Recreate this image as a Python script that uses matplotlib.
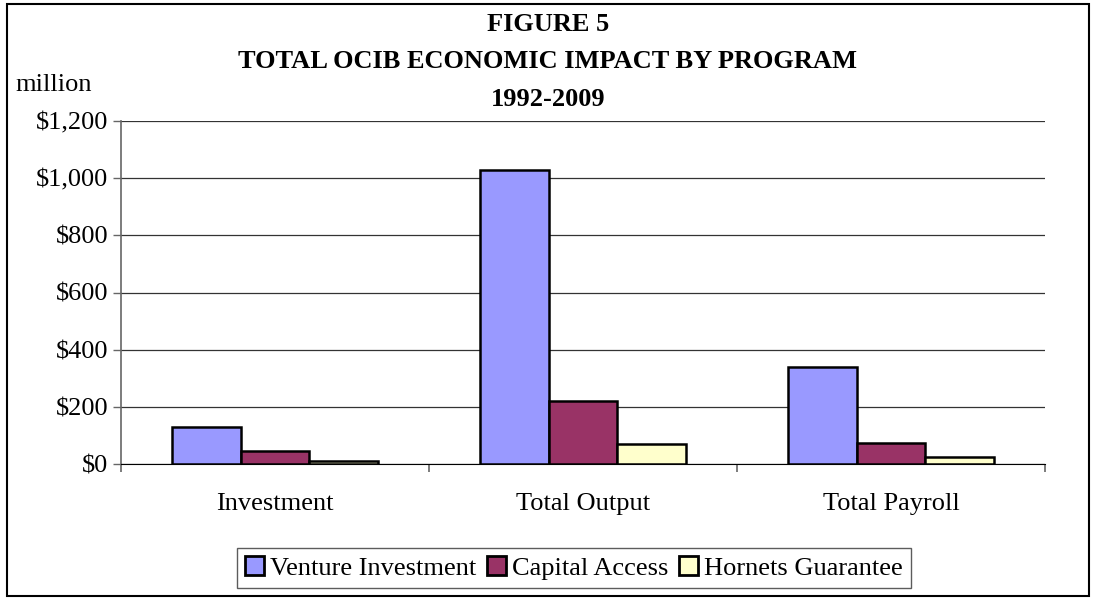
import matplotlib
matplotlib.use("Agg")
import matplotlib.pyplot as plt
import numpy as np
from matplotlib.patches import Rectangle

categories = ["Investment", "Total Output", "Total Payroll"]
series_names = ["Venture Investment", "Capital Access", "Hornets Guarantee"]
venture = [131, 1029, 340]
capital = [44, 219, 74]
hornets = [9, 70, 23]
yticks = [0, 200, 400, 600, 800, 1000, 1200]
ytick_labels = ["$0", "$200", "$400", "$600", "$800", "$1,000", "$1,200"]
colors = ["#9999FF", "#993366", "#FFFFCC"]

plt.rcParams['font.family'] = ['Liberation Serif', 'DejaVu Serif']

W, H = 1095, 600
fig = plt.figure(figsize=(10.95, 6.0), dpi=100)
ax = fig.add_axes([121/W, (H-464)/H, (1045-121)/W, (464-121)/H])

x = np.arange(len(categories))
w = 0.224
for i, (vals, c, name) in enumerate(zip([venture, capital, hornets], colors, series_names)):
    ax.bar(x + (i - 1) * w, vals, width=w, color=c, edgecolor='black', linewidth=1.8,
           label=name, zorder=3)

ax.set_xlim(-0.5, 2.5)
ax.set_ylim(0, 1200)
ax.set_yticks(yticks)
ax.set_yticklabels(ytick_labels, fontsize=19)
ax.yaxis.grid(True, color='#333333', linewidth=0.9, zorder=0)
ax.set_xticks(x)
ax.set_xticklabels(categories, fontsize=19)
ax.tick_params(axis='x', length=0, pad=21)
ax.set_xticks([-0.5, 0.5, 1.5, 2.5], minor=True)
ax.tick_params(axis='x', which='minor', length=6, color='#666666', width=1.2)
ax.tick_params(axis='y', length=6, color='#666666', width=1, pad=3)
for s in ['top', 'right']:
    ax.spines[s].set_visible(False)
ax.spines['left'].set_color('#666666')
ax.spines['left'].set_linewidth(1.2)
ax.spines['bottom'].set_color('black')

tx = 548 / W
fig.text(tx, 1 - 31/H, "FIGURE 5", ha='center', va='baseline', fontsize=19, fontweight='bold')
fig.text(tx, 1 - 68/H, "TOTAL OCIB ECONOMIC IMPACT BY PROGRAM", ha='center', va='baseline', fontsize=19, fontweight='bold')
fig.text(tx, 1 - 106/H, "1992-2009", ha='center', va='baseline', fontsize=19, fontweight='bold')
fig.text(15/W, 1 - 91/H, "million", ha='left', va='baseline', fontsize=19)

leg = fig.legend(loc='center', bbox_to_anchor=(574/W, 1 - 568/H), ncol=3, fontsize=19,
                 frameon=True, fancybox=False, edgecolor='#333333', handlelength=0.7,
                 handleheight=0.7, handletextpad=0.25, columnspacing=0.4, borderpad=0.3,
                 borderaxespad=0)
leg.get_frame().set_linewidth(1.0)
for p in leg.get_patches():
    p.set_linewidth(2.0)

fig.patches.append(Rectangle((7/W, 4/H), (1089-7)/W, (596-4)/H, transform=fig.transFigure,
                             fill=False, edgecolor='black', linewidth=1.5))

fig.savefig("out.png", dpi=100)
